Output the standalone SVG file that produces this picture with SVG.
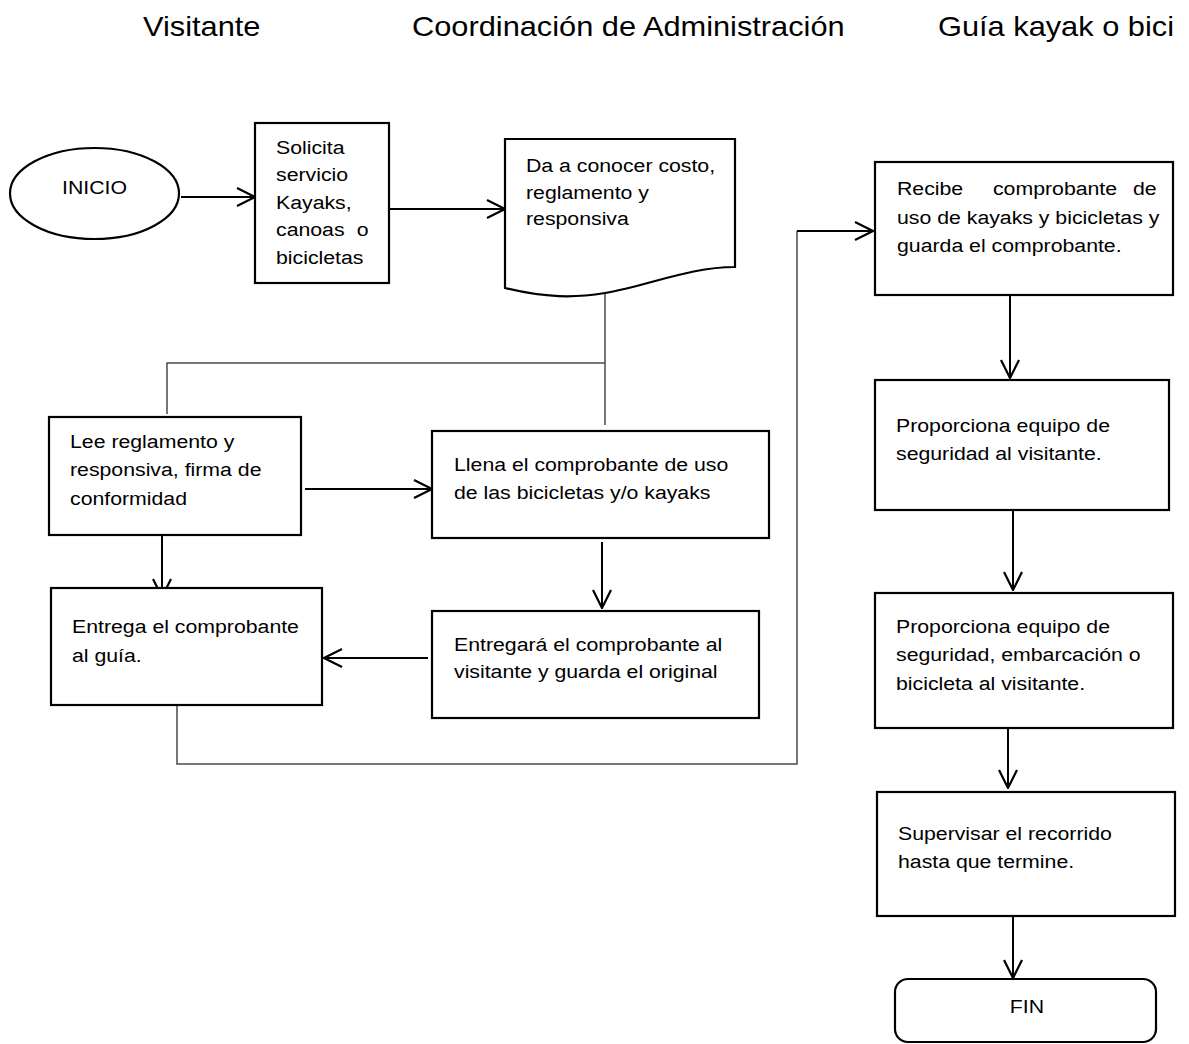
<svg xmlns="http://www.w3.org/2000/svg" width="1189" height="1044" viewBox="0 0 1189 1044">
  <style>
    .box { fill: #fff; stroke: #000; stroke-width: 2.2; }
    .lbl { font-family: "Liberation Sans", Arial, sans-serif; font-size: 19px; fill: #000; }
    .hdr { font-family: "Liberation Sans", Arial, sans-serif; font-size: 27px; fill: #000; }
    .arrow { fill: none; stroke: #000; stroke-width: 2; marker-end: url(#open); }
    .link { fill: none; stroke: #4a4a4a; stroke-width: 1.5; }
  </style>
  <defs>
    <marker id="open" viewBox="0 0 20 20" refX="19" refY="10" markerWidth="20" markerHeight="20" markerUnits="userSpaceOnUse" orient="auto">
      <path d="M1,1 L19,10 L1,19" fill="none" stroke="#000" stroke-width="2.2"/>
    </marker>
  </defs>
  <rect width="1189" height="1044" fill="#fff"/>

  <!-- lane headers -->
  <g id="headers">
    <text class="hdr" transform="translate(143,36) scale(1.14,1)">Visitante</text>
    <text class="hdr" transform="translate(412,36) scale(1.14,1)">Coordinación de Administración</text>
    <text class="hdr" transform="translate(938,36) scale(1.14,1)">Guía kayak o bici</text>
  </g>

  <!-- connectors -->
  <g id="connectors">
    <path class="link" d="M605,293 V425"/>
    <path class="link" d="M167,414 V363 H605"/>
    <path class="link" d="M177,705 V764 H797 V231"/>
    <path class="arrow" d="M181,197 H255"/>
    <path class="arrow" d="M389,209 H505"/>
    <path class="arrow" d="M305,489 H432"/>
    <path class="arrow" d="M162,535 V597"/>
    <path class="arrow" d="M602,542 V608"/>
    <path class="arrow" d="M428,658 H324"/>
    <path class="arrow" d="M797,231 H873"/>
    <path class="arrow" d="M1010,295 V378"/>
    <path class="arrow" d="M1013,511 V590"/>
    <path class="arrow" d="M1008,728 V788"/>
    <path class="arrow" d="M1013,916 V978"/>
  </g>

  <g id="inicio">
    <ellipse class="box" cx="94.5" cy="193.5" rx="84.5" ry="45.5"/>
    <text class="lbl" transform="translate(62,194) scale(1.12,1)">INICIO</text>
  </g>

  <g id="solicita">
    <rect class="box" x="255" y="123" width="134" height="160"/>
    <text class="lbl" transform="translate(276,154) scale(1.12,1)">
      <tspan x="0" y="0">Solicita</tspan>
      <tspan x="0" y="27.5">servicio</tspan>
      <tspan x="0" y="55">Kayaks,</tspan>
      <tspan x="0" y="82.5">canoas</tspan><tspan x="72" y="82.5">o</tspan>
      <tspan x="0" y="110">bicicletas</tspan>
    </text>
  </g>

  <g id="da-a-conocer">
    <path class="box" d="M505,139 H735 V267 C690,267 650,285 605,293 C575,298 545,298 505,288 Z"/>
    <text class="lbl" transform="translate(526,172) scale(1.12,1)">
      <tspan x="0" y="0">Da a conocer costo,</tspan>
      <tspan x="0" y="27">reglamento y</tspan>
      <tspan x="0" y="53">responsiva</tspan>
    </text>
  </g>

  <g id="lee-reglamento">
    <rect class="box" x="49" y="417" width="252" height="118"/>
    <text class="lbl" transform="translate(70,448) scale(1.12,1)">
      <tspan x="0" y="0">Lee reglamento y</tspan>
      <tspan x="0" y="28.5">responsiva, firma de</tspan>
      <tspan x="0" y="57">conformidad</tspan>
    </text>
  </g>

  <g id="llena-comprobante">
    <rect class="box" x="432" y="431" width="337" height="107"/>
    <text class="lbl" transform="translate(454,471) scale(1.12,1)">
      <tspan x="0" y="0">Llena el comprobante de uso</tspan>
      <tspan x="0" y="28">de las bicicletas y/o kayaks</tspan>
    </text>
  </g>

  <g id="entrega-guia">
    <rect class="box" x="51" y="588" width="271" height="117"/>
    <text class="lbl" transform="translate(72,633) scale(1.12,1)">
      <tspan x="0" y="0">Entrega el comprobante</tspan>
      <tspan x="0" y="29">al guía.</tspan>
    </text>
  </g>

  <g id="entregara-visitante">
    <rect class="box" x="432" y="611" width="327" height="107"/>
    <text class="lbl" transform="translate(454,651) scale(1.12,1)">
      <tspan x="0" y="0">Entregará el comprobante al</tspan>
      <tspan x="0" y="27.5">visitante y guarda el original</tspan>
    </text>
  </g>

  <g id="recibe-comprobante">
    <rect class="box" x="875" y="162" width="298" height="133"/>
    <text class="lbl" transform="translate(897,195) scale(1.12,1)">
      <tspan x="0" y="0">Recibe</tspan><tspan x="85.7" y="0">comprobante</tspan><tspan x="210.7" y="0">de</tspan>
      <tspan x="0" y="29">uso de kayaks y bicicletas y</tspan>
      <tspan x="0" y="57">guarda el comprobante.</tspan>
    </text>
  </g>

  <g id="equipo-seguridad">
    <rect class="box" x="875" y="380" width="294" height="130"/>
    <text class="lbl" transform="translate(896,432) scale(1.12,1)">
      <tspan x="0" y="0">Proporciona equipo de</tspan>
      <tspan x="0" y="28">seguridad al visitante.</tspan>
    </text>
  </g>

  <g id="equipo-embarcacion">
    <rect class="box" x="875" y="593" width="298" height="135"/>
    <text class="lbl" transform="translate(896,633) scale(1.12,1)">
      <tspan x="0" y="0">Proporciona equipo de</tspan>
      <tspan x="0" y="28.5">seguridad, embarcación o</tspan>
      <tspan x="0" y="57">bicicleta al visitante.</tspan>
    </text>
  </g>

  <g id="supervisar">
    <rect class="box" x="877" y="792" width="298" height="124"/>
    <text class="lbl" transform="translate(898,840) scale(1.12,1)">
      <tspan x="0" y="0">Supervisar el recorrido</tspan>
      <tspan x="0" y="28">hasta que termine.</tspan>
    </text>
  </g>

  <g id="fin">
    <rect class="box" x="895" y="979" width="261" height="63" rx="13" ry="13"/>
    <text class="lbl" text-anchor="middle" transform="translate(1027,1013) scale(1.12,1)">FIN</text>
  </g>
</svg>
